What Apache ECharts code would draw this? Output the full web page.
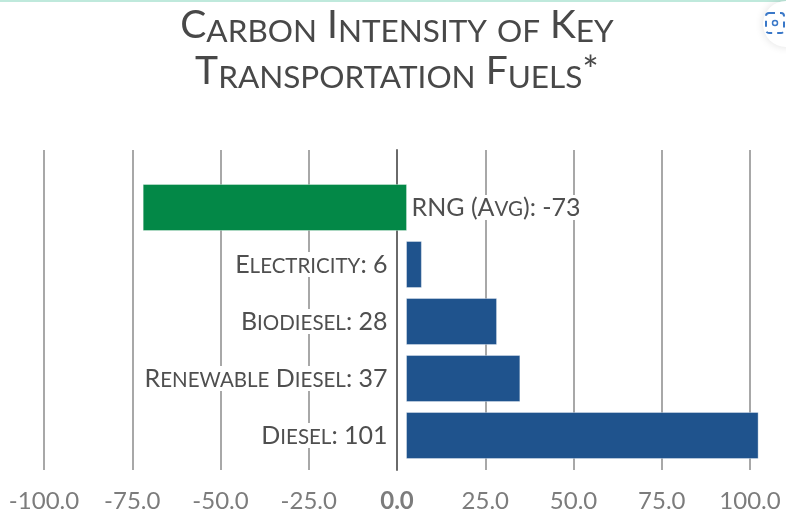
<!DOCTYPE html>
<html><head><meta charset="utf-8">
<script src="https://cdn.jsdelivr.net/npm/echarts@6/dist/echarts.min.js"></script>
<style>html,body{margin:0;padding:0;background:#fff}#c{width:786px;height:520px}</style></head>
<body><div id="c"></div>
<script>
const titleLines = ['Carbon Intensity of Key', 'Transportation Fuels*'];
// bottom to top on the category axis
const fuels = ['Diesel', 'Renewable Diesel', 'Biodiesel', 'Electricity', 'RNG (Avg)'];
const labelValues = [101, 37, 28, 6, -73];
const barStarts = [2.7, 2.7, 2.7, 2.7, 2.7];
const barEnds = [102.3, 34.8, 28.2, 6.9, -71.9];
const barColors = ['#1f538d', '#1f538d', '#1f538d', '#1f538d', '#038847'];
const xMin = -100, xMax = 100, xStep = 25;

// small caps with the reference's tall lower case: lower-case runs go to a smaller upper-case style
const smallCaps = s => s.replace(/[a-z]+/g, m => '{s|' + m.toUpperCase() + '}').replace(/(^|\})([^{]+)(?=\{|$)/g, '$1{c|$2}');

const chart = echarts.init(document.getElementById('c'));
const titleColor = '#484848', labelColor = '#4f4f4f';
const capStyles = (fill, big, small) => ({
  c: { fontFamily: 'Lato', fontSize: big, color: fill },
  s: { fontFamily: 'Lato', fontSize: small, color: fill, verticalAlign: 'bottom' }
});
chart.setOption({
  animation: false,
  backgroundColor: '#fff',
  title: {
    text: titleLines.map(smallCaps).join('\n'), left: 392, top: -3, textAlign: 'center',
    textStyle: { fontFamily: 'Lato', fontWeight: 'normal', fontSize: 39, lineHeight: 46, color: titleColor,
      rich: capStyles(titleColor, 39, 31.5) }
  },
  grid: [
    { left: 44, width: 706, top: 150, height: 320 },
    { left: 44, width: 706, top: 179, height: 285 }
  ],
  xAxis: [
    { type: 'value', gridIndex: 0, min: xMin, max: xMax, interval: xStep,
      axisLine: { show: false }, axisTick: { show: false },
      splitLine: { show: true, lineStyle: { color: '#a8a8a8', width: 2 } },
      axisLabel: { show: true, margin: 19, showMinLabel: true, showMaxLabel: true, hideOverlap: false,
        color: '#7c7c7c', fontFamily: 'Lato', fontSize: 24,
        formatter: v => v === 0 ? '{z|0.0}' : v.toFixed(1),
        rich: { z: { fontWeight: 'bold', color: '#7c7c7c', fontFamily: 'Lato', fontSize: 24 } } } },
    { type: 'value', gridIndex: 1, min: xMin, max: xMax, interval: xStep, show: false }
  ],
  yAxis: [
    { type: 'value', gridIndex: 0, min: 0, max: 1, axisTick: { show: false }, axisLabel: { show: false }, splitLine: { show: false },
      axisLine: { show: true, onZero: true, lineStyle: { color: '#6a6a6a', width: 2 } } },
    { type: 'category', gridIndex: 1, data: fuels, show: false }
  ],
  series: [{
    type: 'custom', xAxisIndex: 1, yAxisIndex: 1, clip: false,
    data: fuels.map((f, i) => [barStarts[i], barEnds[i], i]),
    encode: { x: [0, 1], y: 2 },
    renderItem(params, api) {
      const i = api.value(2);
      const a = api.coord([api.value(0), i]);
      const b = api.coord([api.value(1), i]);
      const h = 46;
      const x0 = Math.min(a[0], b[0]);
      const negative = api.value(1) < 0;
      return { type: 'group', children: [
        { type: 'rect', shape: { x: x0, y: a[1] - h / 2, width: Math.abs(b[0] - a[0]), height: h },
          style: { fill: barColors[i], stroke: 'rgba(255,255,255,0.35)', lineWidth: 1 } },
        { type: 'text', z2: 5, style: {
            text: smallCaps(fuels[i] + ': ' + labelValues[i]),
            x: negative ? a[0] + 5 : a[0] - 19, y: a[1],
            align: negative ? 'left' : 'right', verticalAlign: 'middle',
            fontFamily: 'Lato', fontSize: 25, fill: labelColor, backgroundColor: '#fff',
            rich: capStyles(labelColor, 25, 20.5) } }
      ] };
    }
  }],
  graphic: [
    { type: 'rect', silent: true, shape: { x: 0, y: 0, width: 786, height: 2 }, style: { fill: '#bfe9dc' } },
    { type: 'circle', silent: true, shape: { cx: 786, cy: 24, r: 23 }, style: { fill: '#fff', shadowBlur: 8, shadowColor: 'rgba(0,0,0,0.12)' } },
    { type: 'rect', silent: true, shape: { x: 766, y: 13, width: 18, height: 20, r: 3 }, style: { fill: 'none', stroke: '#3a78c8', lineWidth: 2, lineDash: [6, 5] } },
    { type: 'circle', silent: true, shape: { cx: 775, cy: 23, r: 2.5 }, style: { fill: 'none', stroke: '#3a78c8', lineWidth: 1.5 } }
  ]
});
</script></body></html>
